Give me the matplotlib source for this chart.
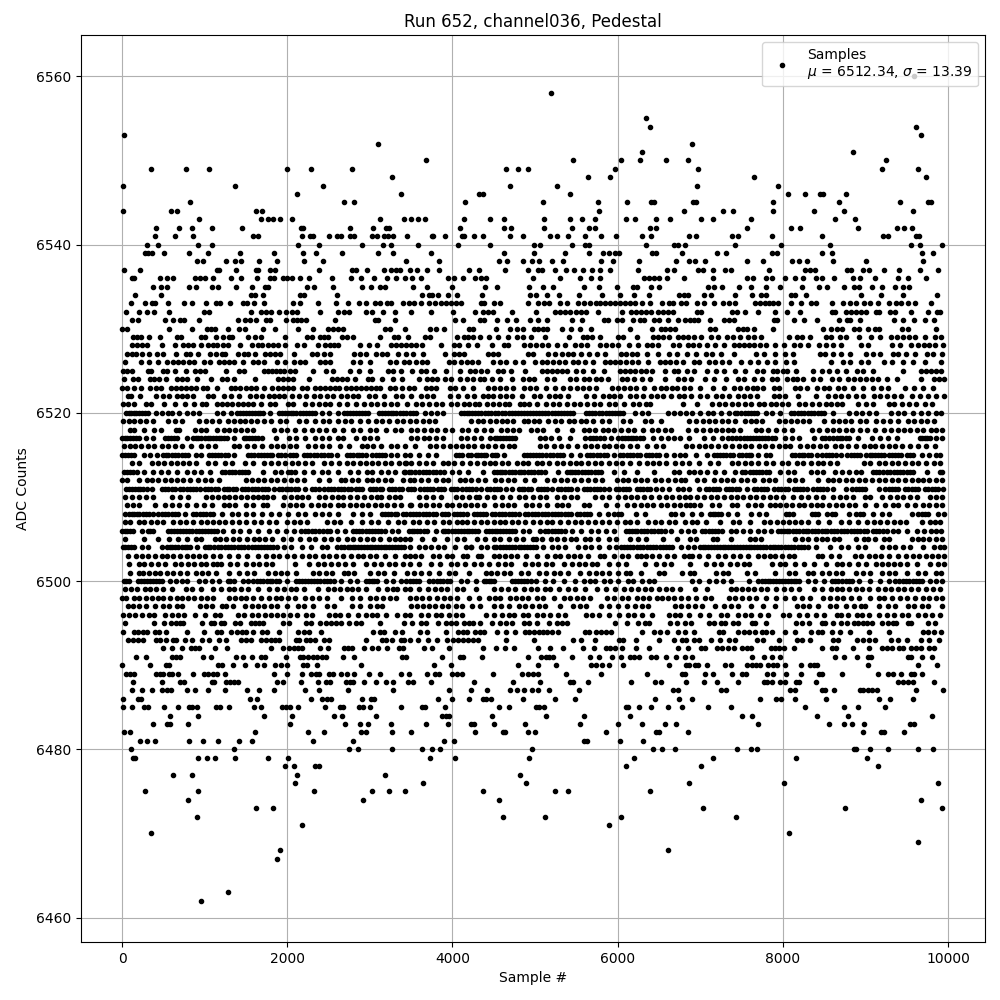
import re
import matplotlib
matplotlib.use("Agg")
import matplotlib.pyplot as plt

# sample numbers, one list per ADC level
s6560 = [9587]
s6558 = [5198]
s6555 = [6339]
s6554 = [6388, 9616]
s6553 = [28, 9676]
s6552 = [3099, 6895]
s6551 = [6291, 8854]
s6550 = [3679, 5457, 6037, 6267, 6581, 6847, 9253]
s6549 = [355, 778, 1056, 2000, 2289, 2785, 4646, 4791, 4913, 5964, 6968, 9205, 9640]
s6548 = [3268, 5638, 5904, 7645, 9737]
s6547 = [16, 1370, 2434, 4695, 5263, 6956, 7947]
s6546 = [2120, 3377, 4320, 4370, 5420, 8068, 8274, 8455, 8491, 8769]
s6545 = [826, 2688, 2809, 4151, 5094, 5759, 6110, 6400, 6436, 6908, 6944, 7875, 8685, 9422, 9761, 9797]
s6544 = [16, 596, 669, 1625, 1690, 5771, 6799, 7270, 7391, 7875, 8382, 8745, 9579]
s6543 = [935, 1684, 1769, 1830, 1914, 2059, 3123, 3413, 3498, 3582, 3667, 4139, 4453, 4622, 5106, 5420, 5566, 5723,
         6097, 6206, 6460, 6629, 7004, 7149, 7609, 8636, 8878]
s6542 = [415, 693, 850, 1092, 1455, 2168, 2192, 2760, 3038, 3196, 3232, 4090, 4622, 4707, 5106, 5445, 5650, 5723,
         6388, 6460, 7560, 8104, 8213, 8914, 9386, 9471, 9567]
s6541 = [403, 645, 862, 1588, 1648, 2180, 2277, 2313, 2503, 2603, 2652, 2760, 2809, 3026, 3087, 3172, 3220, 3280,
         3450, 3752, 3764, 3909, 4115, 4139, 4260, 4370, 4695, 4852, 5179, 5263, 5396, 5602, 5795, 5977, 6291, 6400,
         6859, 6944, 7379, 7452, 7863, 8479, 9217, 9277, 9616, 9652]
s6540 = [306, 439, 923, 1092, 2132, 2386, 2905, 3159, 3256, 3582, 4066, 4453, 4985, 5058, 5445, 5602, 5650, 6339,
         6678, 6726, 6811, 7415, 7983, 8576, 9547, 9664, 9930]
s6539 = [282, 318, 367, 512, 814, 1044, 1431, 1842, 2192, 2349, 2664, 3099, 3280, 3740, 4622, 4985, 5360, 5650,
         5819, 5892, 5964, 6013, 6412, 6460, 6775, 7198, 7306, 7863, 7935, 8479, 8600, 9688, 9821]
s6538 = [911, 983, 1261, 1370, 1443, 1660, 1878, 2204, 2434, 3437, 3836, 4562, 4658, 4852, 4961, 5046, 5203, 5336,
         5795, 5940, 6255, 6702, 6859, 6932, 7053, 7572, 7754, 8116, 8201, 8298, 8612, 9011, 9700]
s6537 = [28, 222, 1152, 1177, 1382, 1624, 1648, 1793, 1854, 2386, 2785, 2833, 2966, 3172, 3256, 3317, 3365, 3486,
         3570, 3691, 3836, 4199, 4320, 4634, 4913, 5034, 5082, 5239, 5372, 5469, 5578, 5686, 5783, 5904, 6243, 6597,
         6678, 6968, 7028, 7149, 7294, 7367, 7838, 8274, 8334, 8395, 8781, 8830, 8975, 9047, 9229, 9410, 9664, 9882]
s6536 = [125, 149, 463, 548, 620, 886, 947, 1007, 1104, 1322, 1443, 1636, 1793, 1842, 1950, 2000, 2059, 2156, 2265,
         2543, 2773, 2893, 3051, 3208, 3317, 3425, 3510, 3619, 3945, 4018, 4127, 4272, 4344, 4405, 4973, 5300, 5541,
         5674, 5783, 6315, 6376, 6436, 6496, 6593, 6799, 7149, 7572, 7633, 7790, 7863, 8020, 8153, 8250, 8407, 8479,
         8624, 8854, 8939, 9120, 9398, 9519, 9737]
s6535 = [379, 475, 548, 814, 899, 1092, 1164, 1382, 1576, 1733, 1769, 2240, 2325, 2555, 2905, 3014, 3123, 3184, 3522,
         3691, 3994, 4393, 4538, 4925, 5094, 5215, 5590, 5771, 5989, 6182, 6230, 6400, 6496, 7089, 7161, 7258, 7464,
         7609, 7790, 7971, 8237, 8443, 8540, 8745, 8866, 8926, 9084, 9205, 9362, 9459, 9531]
s6534 = [161, 475, 1564, 1612, 1709, 2156, 2204, 2603, 3631, 3716, 3752, 3824, 3945, 4054, 4356, 4937, 5009, 5142,
         5287, 5529, 5807, 6025, 6194, 6376, 6738, 6799, 6847, 7040, 7125, 7423, 7621, 7730, 7790, 8104, 8153, 8286,
         8951, 9193, 9459, 9870]
s6533 = [113, 282, 367, 403, 560, 753, 850, 1020, 1140, 1189, 1310, 1467, 1515, 1600, 1721, 2071, 2156, 2374, 2591,
         2736, 2869, 2954, 3063, 3123, 3208, 3256, 3401, 3474, 3534, 3619, 3716, 3788, 3860, 3921, 3982, 4042, 4102,
         4344, 4381, 4501, 4574, 4913, 5034, 5106, 5167, 5300, 5384, 5517, 5590, 5662, 5735, 5783, 5844, 5904, 5964,
         6025, 6085, 6146, 6206, 6291, 6388, 6533, 6617, 6666, 6762, 6823, 6956, 7040, 7161, 7270, 7343, 7415, 7657,
         7718, 7778, 7838, 7875, 7947, 8104, 8225, 8346, 8407, 8600, 8733, 8818, 8890, 8987, 9060, 9157, 9289, 9374,
         9434, 9519, 9604, 9797]
s6532 = [52, 209, 306, 391, 572, 995, 1056, 1564, 1684, 1745, 1805, 1902, 1987, 2059, 2120, 2398, 2615, 2688, 2748,
         2954, 3026, 3159, 3304, 3498, 3740, 4006, 4272, 4370, 4429, 4489, 4719, 5009, 5239, 5300, 5360, 5420, 5493,
         5553, 5614, 5759, 6049, 6158, 6218, 6279, 6339, 6400, 6484, 6545, 6605, 6666, 6956, 7004, 7379, 7439, 7536,
         7705, 7899, 8056, 8213, 8600, 8636, 8769, 8830, 8890, 8951, 9011, 9132, 9168, 9301, 9362, 9555, 9761, 9870, 9906]
s6531 = [125, 197, 524, 620, 705, 753, 935, 1406, 1491, 1551, 1624, 1745, 1793, 1987, 2071, 2120, 2168, 2228, 2579,
         3063, 3099, 3304, 4030, 4127, 4332, 4381, 4538, 4658, 4767, 4937, 5034, 5142, 5445, 5566, 5831, 5880, 5989,
         6049, 6182, 6267, 6315, 6436, 6496, 6605, 6726, 6811, 6871, 6920, 6968, 7113, 7282, 7343, 7403, 7887, 7935,
         8141, 8262, 8419, 8685, 8781, 8818, 8939, 9350, 9459, 9591, 9724, 9833]
s6530 = [4, 64, 572, 850, 1032, 1080, 1128, 1285, 1418, 1491, 1709, 1854, 2132, 2313, 2494, 2555, 2615, 2676, 3184,
         3244, 3425, 3728, 3800, 3897, 4199, 4248, 4525, 4695, 4779, 4852, 4985, 5034, 5094, 5142, 5324, 5432, 5541,
         5674, 6146, 6412, 6521, 6569, 6629, 6690, 7113, 7173, 7452, 7512, 7560, 7645, 7875, 8491, 8588, 8661, 8721,
         8866, 8926, 9035, 9120, 9168, 9446, 9519, 9857]
s6529 = [137, 185, 234, 330, 463, 669, 717, 959, 1007, 1140, 1225, 1298, 1334, 1527, 1612, 1684, 1975, 2241, 2301,
         2398, 2446, 2494, 2664, 2724, 2797, 3123, 3292, 3341, 3461, 3667, 3728, 4054, 4139, 4187, 4248, 4332, 4441,
         4550, 4671, 4779, 4852, 4949, 5118, 5408, 5578, 5626, 5686, 5783, 6001, 6061, 6231, 6424, 6484, 6545, 6617,
         6726, 6787, 6847, 6920, 7004, 7125, 7210, 7319, 7391, 7476, 7584, 7645, 7730, 8080, 8177, 8237, 8334, 8527,
         8588, 8697, 8769, 8926, 9071, 9181, 9313, 9386, 9459, 9531, 9604, 9724, 9845, 9918]
s6528 = [125, 185, 246, 306, 487, 645, 741, 802, 862, 959, 1044, 1104, 1152, 1225, 1285, 1431, 1576, 1648, 1697, 1769,
         1830, 1890, 1975, 2120, 2204, 2374, 2458, 2519, 2567, 2615, 2881, 2990, 3087, 3256, 3317, 3377, 3437, 3498,
         3558, 3631, 3860, 4018, 4078, 4187, 4296, 4477, 4622, 4671, 4864, 4937, 5009, 5082, 5154, 5263, 5360, 5481,
         5553, 5626, 5783, 5856, 5928, 6001, 6134, 6243, 6351, 6412, 6484, 6666, 6738, 6847, 6908, 6980, 7077, 7173,
         7282, 7403, 7464, 7524, 7585, 7645, 7718, 7790, 7911, 8008, 8129, 8213, 8310, 8443, 8527, 8612, 8709, 8951,
         9035, 9325, 9422, 9555, 9640, 9712, 9773, 9845, 9942]
s6527 = [64, 125, 173, 246, 330, 427, 500, 657, 778, 826, 923, 1068, 1140, 1213, 1249, 1406, 1479, 1527, 1612, 1733,
         1793, 1854, 1914, 2083, 2301, 2361, 2446, 2519, 2809, 2881, 2954, 3075, 3147, 3208, 3341, 3437, 3522, 3643,
         3909, 4018, 4078, 4139, 4429, 4489, 4550, 4913, 4973, 5154, 5239, 5324, 5396, 5457, 5553, 5650, 5747, 5844,
         6037, 6097, 6170, 6230, 6351, 6484, 6617, 6714, 6835, 6944, 7065, 7137, 7246, 7403, 7669, 7766, 7911, 8020,
         8117, 8455, 8515, 8612, 8709, 8818, 9011, 9096, 9181, 9337, 9398, 9495, 9604, 9749, 9821, 9930]
s6526 = [40, 234, 330, 439, 548, 620, 681, 741, 814, 874, 995, 1068, 1177, 1237, 1298, 1358, 1467, 1588, 1648, 1721,
         1878, 1975, 2083, 2156, 2216, 2398, 2458, 2519, 2797, 2881, 3002, 3244, 3317, 3413, 3474, 3558, 3631, 3691,
         3957, 4018, 4102, 4175, 4236, 4308, 4489, 4574, 4646, 4755, 4852, 4997, 5082, 5142, 5215, 5287, 5360, 5457,
         5517, 5602, 5699, 5844, 5904, 5964, 6025, 6097, 6170, 6243, 6363, 6509, 6569, 6629, 6702, 6787, 6920, 6980,
         7101, 7173, 7258, 7343, 7488, 7597, 7705, 7814, 7899, 8044, 8129, 8588, 8733, 8818, 8951, 9035, 9229, 9325,
         9459, 9579, 9724, 9918]
s6525 = [16, 64, 125, 318, 355, 500, 548, 645, 778, 886, 947, 1007, 1261, 1418, 1479, 1721, 1769, 1817, 1866, 1914,
         1963, 2035, 2095, 2313, 2470, 2555, 2760, 2869, 3002, 3220, 3280, 3377, 3510, 3619, 3679, 3776, 3921, 4090,
         4211, 4272, 4344, 4417, 4550, 4610, 4707, 4876, 5082, 5142, 5203, 5263, 5324, 5384, 5493, 5578, 5699, 5831,
         6025, 6085, 6146, 6206, 6279, 6339, 6412, 6569, 6678, 6726, 6835, 6920, 7077, 7186, 7282, 7415, 7536, 7693,
         7754, 7875, 7935, 7996, 8056, 8165, 8370, 8479, 8564, 8661, 8769, 8902, 8975, 9096, 9459, 9676, 9737, 9797,
         9857, 9918]
s6524 = [28, 137, 197, 342, 391, 451, 536, 669, 729, 790, 911, 1080, 1213, 1273, 1358, 1612, 1890, 1950, 2011, 2071,
         2265, 2543, 2603, 2664, 2724, 2821, 2978, 3026, 3143, 3280, 3389, 3595, 3691, 3752, 3812, 3909, 3982, 4090,
         4175, 4248, 4332, 4381, 4477, 4574, 4719, 4852, 4925, 4985, 5142, 5227, 5420, 5493, 5590, 5650, 5735, 5795,
         5880, 6049, 6110, 6194, 6291, 6388, 6569, 6726, 6799, 6883, 7053, 7161, 7306, 7452, 7524, 7645, 7742, 7863,
         7935, 8056, 8117, 8177, 8250, 8370, 8455, 8600, 8685, 8793, 8866, 8939, 9011, 9084, 9157, 9265, 9386, 9676,
         9833, 9894, 9950]
s6523 = [4, 64, 149, 234, 342, 415, 475, 596, 657, 717, 778, 838, 899, 983, 1032, 1152, 1322, 1370, 1431, 1503, 1564,
         1624, 1721, 1817, 1890, 1950, 2011, 2071, 2180, 2241, 2337, 2398, 2458, 2519, 2579, 2627, 2712, 2773, 2833,
         2893, 2954, 3014, 3075, 3123, 3244, 3304, 3389, 3474, 3534, 3679, 3740, 3800, 3969, 4030, 4127, 4248, 4429,
         4501, 4574, 4646, 4731, 4864, 4937, 5009, 5130, 5239, 5336, 5420, 5505, 5578, 5650, 5735, 5928, 6001, 6073,
         6146, 6218, 6315, 6436, 6521, 6581, 6654, 6714, 6799, 6871, 6992, 7149, 7282, 7403, 7476, 7560, 7633, 7693,
         7754, 7887, 7959, 8153, 8213, 8298, 8419, 8503, 8564, 8673, 8745, 8854, 8975, 9096, 9193, 9277, 9483, 9591,
         9700, 9821]
s6522 = [76, 113, 222, 415, 500, 572, 669, 729, 790, 862, 1044, 1104, 1237, 1322, 1418, 1551, 1624, 1697, 1781, 1842,
         1902, 1963, 2059, 2144, 2228, 2325, 2398, 2482, 2555, 2652, 2724, 2797, 2857, 2990, 3063, 3172, 3317, 3389,
         3498, 3619, 3691, 3764, 3969, 4066, 4175, 4260, 4370, 4429, 4489, 4574, 4646, 4719, 4840, 4985, 5058, 5167,
         5239, 5300, 5396, 5614, 5711, 5819, 5892, 5952, 6025, 6146, 6218, 6303, 6400, 6472, 6545, 6642, 6738, 6799,
         6883, 6992, 7077, 7186, 7258, 7343, 7452, 7524, 7597, 7693, 7887, 7959, 8032, 8189, 8407, 8552, 8636, 8709,
         8793, 8890, 8975, 9108, 9181, 9265, 9350, 9434, 9567, 9664, 9761, 9857, 9950]

# dense core, rows estimated run by run
s6521 = [8, 68, 149, 290, 350, 504, 645, 766, 866, 963, 1020, 1144, 1204, 1265, 1325, 1398, 1459, 1519, 1580, 1680,
         1785, 1850, 2003, 2075, 2220, 2301, 2382, 2462, 2519, 2623, 2728, 2829, 2930, 3010, 3091, 3172, 3252, 3333,
         3454, 3554, 3635, 3716, 3796, 3877, 3978, 4058, 4139, 4199, 4268, 4324, 4413, 4493, 4558, 4630, 4683, 4812,
         4872, 4929, 5029, 5134, 5215, 5287, 5388, 5469, 5549, 5630, 5710, 5783, 5892, 5972, 6073, 6182, 6263, 6343,
         6396, 6786, 6960, 7141, 7221, 7302, 7383, 7463, 7544, 7612, 7709, 7774, 7854, 7919, 7987, 8068, 8197, 8269,
         8358, 8438, 8519, 8584, 8660, 8717, 8914, 9007, 9087, 9285, 9349, 9446, 9527, 9607, 9720, 9809]
s6520 = [50, 110, 170, 240, 310, 410, 480, 560, 610, 690, 790, 860, 930, 1150, 1220, 1320, 1390, 1430, 1500, 1570,
         1640, 1700, 1790, 1900, 1970, 2040, 2110, 2190, 2260, 2330, 2420, 2500, 2620, 2690, 2760, 2830, 2910, 2980,
         3110, 3180, 3250, 3320, 3400, 3480, 3560, 3670, 3740, 3810, 3880, 4100, 4170, 4240, 4310, 4390, 4470, 4550,
         4640, 4720, 4790, 4860, 4940, 5010, 5090, 5160, 5240, 5320, 5390, 5460, 5620, 5690, 5770, 5860, 5930, 6000,
         6060, 6210, 6290, 6370, 6610, 6680, 6760, 6830, 6900, 7000, 7090, 7160, 7250, 7350, 7440, 7540, 7620, 7690,
         7790, 7870, 7960, 8100, 8180, 8260, 8340, 8420, 8500, 8610, 8800, 8880, 8960, 9040, 9130, 9310, 9390, 9470,
         9580, 9670, 9760, 9860, 9920]
s6519 = [10, 80, 150, 220, 290, 380, 560, 640, 720, 930, 1020, 1090, 1170, 1280, 1360, 1430, 1490, 1560, 1630, 1720,
         1800, 1910, 1990, 2140, 2230, 2330, 2430, 2510, 2620, 2700, 2770, 2880, 2980, 3070, 3150, 3230, 3330, 3400,
         3480, 3560, 3640, 3710, 3790, 4230, 4310, 4370, 4450, 4530, 4600, 4660, 4730, 4860, 4920, 4990, 5050, 5160,
         5240, 5320, 5410, 5470, 5560, 5620, 5700, 5810, 5900, 6070, 6150, 6330, 6400, 6530, 6860, 6950, 7030, 7100,
         7180, 7260, 7340, 7420, 7540, 7610, 7680, 7750, 7950, 8020, 8100, 8170, 8240, 8320, 8500, 8610, 8680, 8750,
         8830, 8930, 9010, 9130, 9210, 9300, 9390, 9510, 9590, 9670, 9750, 9830]
s6518 = [90, 150, 260, 390, 470, 650, 690, 880, 950, 1020, 1150, 1230, 1300, 1370, 1440, 1510, 1580, 1840, 1920, 2000,
         2090, 2200, 2300, 2380, 2470, 2570, 2680, 2790, 2880, 3000, 3080, 3200, 3300, 3380, 3500, 3570, 3650, 3740,
         3810, 3910, 4000, 4120, 4190, 4290, 4380, 4470, 4590, 4660, 4730, 4800, 4950, 5020, 5100, 5260, 5450, 5590,
         5650, 5730, 5820, 5880, 5960, 6040, 6130, 6200, 6310, 6420, 6490, 6570, 6640, 6850, 6950, 7030, 7120, 7190,
         7260, 7330, 7400, 7480, 7670, 7740, 7820, 7920, 8010, 8110, 8350, 8440, 8540, 8610, 8680, 8760, 8840, 8940,
         9020, 9120, 9220, 9310, 9390, 9470, 9540, 9620, 9700, 9790, 9860, 9930]
s6517 = [0, 60, 130, 210, 290, 380, 520, 590, 660, 780, 860, 920, 1000, 1070, 1140, 1200, 1270, 1350, 1470, 1540,
         1610, 1690, 1860, 2020, 2110, 2210, 2330, 2420, 2500, 2610, 2680, 2830, 2930, 3000, 3090, 3500, 3570, 3650,
         3720, 3800, 3880, 4100, 4170, 4260, 4350, 4450, 4540, 4610, 4680, 4760, 5060, 5120, 5190, 5290, 5420, 5600,
         5670, 5740, 5830, 5920, 6010, 6090, 6160, 6220, 6310, 6430, 6530, 6610, 6680, 6760, 6860, 7040, 7160, 7260,
         7340, 7430, 7530, 7600, 7680, 7750, 7820, 7910, 8020, 8110, 8190, 8380, 8470, 8560, 8660, 8720, 8800, 8910,
         9080, 9180, 9270, 9380, 9660, 9720, 9780, 9860, 9930]
s6516 = [20, 90, 160, 230, 310, 390, 480, 560, 640, 720, 830, 950, 1040, 1120, 1350, 1420, 1510, 1600, 1690, 1800,
         1870, 1950, 2030, 2110, 2250, 2330, 2420, 2510, 2640, 2750, 2900, 2970, 3040, 3130, 3250, 3330, 3430, 3550,
         3730, 3800, 3880, 3970, 4040, 4110, 4190, 4260, 4360, 4430, 4510, 4600, 4680, 4750, 5060, 5130, 5230, 5310,
         5400, 5510, 5610, 5680, 5750, 5830, 5900, 5980, 6050, 6150, 6240, 6350, 6470, 6550, 6830, 6900, 6980, 7060,
         7130, 7220, 7300, 7380, 7470, 7540, 7620, 7710, 7780, 7870, 7950, 8020, 8090, 8210, 8290, 8370, 8450, 8520,
         8630, 8700, 8790, 8890, 8980, 9050, 9120, 9200, 9280, 9360, 9440, 9540, 9640, 9730, 9840]
s6515 = [0, 70, 150, 260, 340, 420, 490, 560, 640, 720, 800, 900, 960, 1050, 1130, 1200, 1280, 1350, 1520, 1600,
         1680, 1750, 1820, 1890, 1970, 2030, 2110, 2200, 2280, 2360, 2450, 2530, 2600, 2720, 2800, 2870, 2950, 3030,
         3110, 3180, 3260, 3330, 3420, 3490, 3600, 3700, 3800, 4040, 4110, 4190, 4280, 4340, 4410, 4480, 4540, 4620,
         4860, 4940, 5010, 5090, 5180, 5260, 5340, 5440, 5540, 5630, 5700, 5790, 5870, 5950, 6030, 6110, 6190, 6270,
         6340, 6420, 6500, 6580, 6680, 6760, 6820, 6950, 7080, 7170, 7240, 7310, 7400, 7470, 7550, 7620, 7700, 7790,
         7850, 8110, 8190, 8260, 8340, 8410, 8480, 8560, 8640, 8700, 8780, 8860, 8940, 9010, 9080, 9150, 9220, 9290,
         9360, 9430, 9500, 9580, 9680, 9770, 9860, 9900]
s6514 = [120, 200, 360, 440, 510, 590, 670, 740, 810, 900, 1040, 1120, 1240, 1330, 1490, 1590, 1720, 1800, 1890, 1970,
         2060, 2130, 2210, 2300, 2450, 2530, 2630, 2720, 2790, 2880, 2950, 3030, 3100, 3180, 3260, 3350, 3420, 3440,
         3500, 3590, 3680, 3770, 3880, 3950, 4020, 4120, 4210, 4300, 4380, 4460, 4520, 4600, 4670, 4780, 4850, 4910,
         5020, 5090, 5170, 5260, 5340, 5420, 5490, 5560, 5640, 5720, 5800, 5900, 5980, 6050, 6150, 6260, 6350, 6430,
         6500, 6580, 6700, 6780, 6860, 6990, 7120, 7210, 7380, 7460, 7540, 7620, 7700, 7790, 7880, 7990, 8060, 8170,
         8240, 8340, 8420, 8490, 8570, 8650, 8980, 9060, 9160, 9240, 9320, 9400, 9480, 9560, 9640, 9730, 9830, 9900]
s6513 = [20, 90, 180, 260, 380, 470, 560, 660, 780, 870, 960, 1060, 1210, 1290, 1370, 1450, 1520, 1700, 1850, 1930,
         2010, 2090, 2200, 2310, 2420, 2490, 2620, 2760, 2860, 2960, 3030, 3130, 3220, 3310, 3410, 3420, 3470, 3550,
         3640, 3720, 3800, 3900, 4000, 4080, 4190, 4370, 4500, 4570, 4640, 4720, 4800, 4870, 4950, 5030, 5120, 5280,
         5390, 5420, 5480, 5570, 5640, 5720, 5800, 5960, 6080, 6240, 6440, 6680, 6740, 6860, 6930, 7000, 7080, 7180,
         7290, 7420, 7500, 7600, 7680, 7750, 7830, 7960, 8060, 8140, 8340, 8410, 8490, 8630, 8720, 8800, 8880, 8950,
         9090, 9170, 9260, 9340, 9420, 9500, 9580, 9740, 9900, 9930]
s6512 = [0, 60, 210, 300, 360, 440, 520, 590, 660, 740, 820, 920, 1000, 1080, 1170, 1500, 1570, 1650, 1720, 1800,
         1880, 1960, 2050, 2120, 2200, 2390, 2500, 2650, 2700, 2780, 2860, 2960, 3030, 3100, 3180, 3260, 3400, 3480,
         3540, 3620, 3700, 3800, 3880, 3950, 4090, 4150, 4230, 4310, 4390, 4510, 4590, 4670, 4740, 4880, 4990, 5150,
         5230, 5310, 5390, 5470, 5560, 5640, 5720, 5810, 5990, 6060, 6130, 6210, 6280, 6360, 6450, 6530, 6610, 6700,
         6770, 6820, 6960, 7050, 7170, 7250, 7320, 7400, 7490, 7560, 7650, 7760, 7830, 7900, 8070, 8150, 8230, 8430,
         8550, 8610, 8680, 8760, 8840, 8920, 9000, 9080, 9160, 9240, 9320, 9400, 9480, 9560, 9640, 9700, 9770, 9850,
         9930]
s6511 = [50, 120, 190, 250, 300, 360, 480, 560, 640, 700, 780, 860, 940, 1000, 1080, 1160, 1230, 1300, 1380, 1450,
         1530, 1610, 1690, 1770, 1840, 1900, 1980, 2050, 2130, 2220, 2300, 2380, 2450, 2530, 2610, 2690, 2770, 2830,
         2910, 3000, 3080, 3150, 3230, 3310, 3390, 3460, 3540, 3610, 3690, 3760, 3830, 3900, 3980, 4060, 4120, 4200,
         4280, 4350, 4420, 4500, 4580, 4650, 4720, 4810, 4870, 4950, 5030, 5110, 5200, 5280, 5360, 5440, 5510, 5590,
         5670, 5750, 5830, 5900, 5980, 6060, 6140, 6230, 6310, 6390, 6470, 6540, 6620, 6730, 6790, 6860, 6990, 7070,
         7150, 7230, 7310, 7390, 7470, 7570, 7650, 7730, 7810, 7890, 7980, 8060, 8130, 8210, 8290, 8370, 8450, 8530,
         8610, 8770, 8840, 8920, 9000, 9160, 9240, 9320, 9400, 9480, 9560, 9640, 9720, 9800, 9880, 9940]
s6510 = [40, 120, 200, 290, 370, 600, 700, 800, 1020, 1090, 1160, 1230, 1300, 1370, 1440, 1510, 1580, 1640, 1700,
         1760, 1830, 1960, 2040, 2120, 2180, 2250, 2380, 2460, 2540, 2620, 2680, 2760, 2850, 2930, 3010, 3090, 3130,
         3230, 3300, 3370, 3600, 3680, 3770, 3860, 4040, 4120, 4200, 4280, 4320, 4420, 4500, 4600, 4700, 4800, 4880,
         4970, 5060, 5130, 5270, 5350, 5430, 5510, 5730, 5810, 5900, 6000, 6090, 6160, 6230, 6320, 6400, 6500, 6580,
         6660, 6740, 6810, 6880, 6960, 7050, 7130, 7200, 7290, 7370, 7440, 7520, 7600, 7680, 7760, 7840, 7920, 8000,
         8120, 8220, 8310, 8400, 8490, 8610, 8690, 8770, 8850, 8990, 9060, 9200, 9300, 9380, 9460, 9540, 9620, 9780,
         9860, 9930]
s6509 = [60, 130, 200, 400, 520, 600, 690, 780, 900, 990, 1090, 1230, 1300, 1370, 1500, 1590, 1710, 1760, 1950,
         2030, 2100, 2180, 2290, 2370, 2440, 2520, 2610, 2680, 2760, 2830, 2900, 2980, 3060, 3130, 3210, 3290, 3380,
         3500, 3480, 3610, 3680, 3760, 3840, 3930, 4000, 4080, 4150, 4230, 4300, 4380, 4520, 4600, 4670, 4740, 4890,
         4960, 5050, 5150, 5260, 5330, 5400, 5590, 5650, 5860, 5990, 6110, 6200, 6280, 6350, 6430, 6520, 6600, 6680,
         6760, 6830, 6880, 6930, 7000, 7140, 7230, 7380, 7440, 7580, 7660, 7730, 7840, 7900, 7970, 8040, 8110, 8190,
         8260, 8340, 8410, 8480, 8560, 8640, 8720, 8800, 8870, 9000, 9130, 9240, 9330, 9400, 9500, 9600, 9700, 9770,
         9850, 9930]
s6508 = [30, 80, 150, 210, 290, 370, 440, 520, 600, 680, 760, 860, 940, 1020, 1100, 1210, 1330, 1400, 1500, 1590,
         1690, 1800, 1900, 2010, 2130, 2220, 2330, 2420, 2500, 2610, 2800, 2900, 3000, 3150, 3180, 3260, 3330, 3400,
         3480, 3560, 3640, 3720, 3800, 3870, 3940, 4020, 4090, 4170, 4260, 4330, 4410, 4480, 4560, 4640, 4720, 4800,
         4880, 4960, 5040, 5120, 5200, 5280, 5360, 5440, 5510, 5590, 5670, 5780, 5880, 5960, 6040, 6220, 6330, 6640,
         6700, 6780, 6900, 7010, 7120, 7180, 7250, 7330, 7440, 7620, 7710, 7790, 8040, 8120, 8350, 8430, 8540, 8630,
         8800, 8890, 8970, 9090, 9200, 9290, 9560, 9640, 9720, 9880, 9950]
s6507 = [30, 100, 200, 270, 350, 420, 490, 620, 700, 770, 860, 950, 1030, 1100, 1170, 1250, 1330, 1410, 1500, 1600,
         1680, 1780, 1860, 2000, 2080, 2160, 2240, 2480, 2560, 2640, 2770, 2900, 3010, 3100, 3220, 3340, 3410, 3520,
         3600, 3690, 3780, 3880, 3960, 4050, 4110, 4180, 4260, 4340, 4420, 4500, 4580, 4640, 4720, 4790, 4880, 4980,
         5060, 5150, 5210, 5300, 5400, 5480, 5560, 5640, 5720, 5810, 5900, 5990, 6090, 6150, 6230, 6370, 6450, 6530,
         6620, 6700, 6820, 6900, 6960, 7070, 7240, 7400, 7470, 7600, 7770, 7850, 7930, 8000, 8080, 8150, 8220, 8300,
         8430, 8560, 8700, 8800, 8910, 9020, 9100, 9180, 9260, 9340, 9420, 9490, 9680, 9780, 9840, 9900]
s6506 = [0, 60, 130, 240, 310, 380, 550, 630, 700, 770, 850, 930, 1000, 1080, 1150, 1220, 1340, 1430, 1540, 1640,
         1780, 1880, 1980, 2080, 2170, 2250, 2340, 2430, 2520, 2600, 2700, 2800, 2870, 2950, 3020, 3100, 3180, 3270,
         3340, 3470, 3540, 3610, 3690, 3800, 3880, 3950, 4030, 4100, 4170, 4240, 4310, 4400, 4480, 4540, 4610, 4690,
         4760, 4850, 4930, 5060, 5120, 5200, 5280, 5360, 5450, 5560, 5680, 5760, 5860, 5950, 6100, 6170, 6240, 6320,
         6400, 6490, 6570, 6650, 6770, 6850, 6930, 7020, 7100, 7180, 7260, 7370, 7430, 7520, 7600, 7700, 7770, 7860,
         7940, 8010, 8080, 8160, 8240, 8310, 8390, 8470, 8540, 8620, 8700, 8780, 8860, 8940, 9020, 9090, 9170, 9260,
         9330, 9400, 9500, 9630, 9710, 9790, 9860, 9920]
s6505 = [40, 270, 430, 570, 680, 790, 900, 950, 1120, 1190, 1260, 1340, 1420, 1510, 1600, 1660, 1730, 1820, 1950,
         2050, 2150, 2260, 2340, 2450, 2530, 2620, 2720, 2800, 2880, 2960, 3040, 3120, 3230, 3300, 3370, 3420, 3490,
         3630, 3780, 3930, 4050, 4140, 4300, 4390, 4500, 4580, 4680, 4770, 4850, 4970, 5010, 5080, 5190, 5270, 5350,
         5430, 5490, 5600, 5670, 5760, 5900, 5980, 6150, 6250, 6340, 6550, 6720, 6870, 6950, 7150, 7200, 7370, 7600,
         7660, 7730, 8150, 8230, 8310, 8400, 8470, 8540, 8620, 8680, 8880, 8980, 9030, 9110, 9230, 9280, 9560, 9640,
         9700, 9770, 9860, 9930]
s6504 = [10, 70, 150, 240, 310, 480, 540, 610, 680, 760, 820, 910, 1000, 1070, 1160, 1240, 1320, 1400, 1480, 1570,
         1640, 1720, 1790, 1870, 1960, 2040, 2180, 2290, 2420, 2480, 2600, 2650, 2730, 2790, 2860, 2930, 3000, 3060,
         3130, 3200, 3270, 3340, 3410, 3490, 3600, 3670, 3740, 3820, 3900, 4030, 4160, 4220, 4230, 4350, 4420, 4500,
         4570, 4650, 4720, 4800, 4860, 4940, 5010, 5100, 5200, 5280, 5360, 5520, 5600, 5680, 5780, 5900, 5980, 6040,
         6110, 6190, 6270, 6350, 6430, 6510, 6580, 6660, 6770, 6850, 6920, 7000, 7060, 7130, 7200, 7270, 7340, 7410,
         7480, 7550, 7620, 7690, 7760, 7840, 7910, 7980, 8060, 8140, 8220, 8300, 8400, 8570, 8710, 8790, 8910, 9000,
         9200, 9280, 9360, 9450, 9540, 9700, 9830, 9900, 9950]
s6503 = [70, 170, 240, 310, 400, 480, 540, 620, 700, 780, 860, 930, 1000, 1100, 1190, 1300, 1400, 1510, 1650, 1740,
         1830, 1900, 2000, 2080, 2180, 2260, 2340, 2430, 2510, 2590, 2670, 2770, 2860, 2920, 3000, 3080, 3180, 3300,
         3420, 3490, 3550, 3620, 3760, 3840, 3930, 4000, 4170, 4130, 4310, 4340, 4500, 4560, 4640, 4710, 4780, 4890,
         5020, 5150, 5240, 5300, 5400, 5470, 5550, 5640, 5790, 5830, 5950, 6050, 6120, 6230, 6280, 6340, 6420, 6500,
         6600, 6680, 6800, 6860, 6900, 6980, 7090, 7220, 7300, 7400, 7480, 7580, 7700, 7770, 7840, 7910, 7990, 8070,
         8130, 8430, 8480, 8580, 8680, 8870, 8950, 9040, 9120, 9190, 9280, 9400, 9490, 9570, 9650, 9730, 9800, 9880, 9950]
s6502 = [80, 200, 270, 350, 430, 520, 640, 710, 800, 870, 950, 1020, 1100, 1150, 1200, 1310, 1390, 1500, 1580, 1660,
         1740, 1820, 2090, 2260, 2370, 2450, 2530, 2620, 2700, 2800, 2950, 3050, 3140, 3230, 3300, 3400, 3480, 3600,
         3740, 3850, 3980, 4060, 4150, 4260, 4350, 4440, 4550, 4630, 4710, 4880, 4960, 5040, 5130, 5200, 5350, 5450,
         5530, 5610, 5690, 5750, 5900, 6000, 6100, 6330, 6470, 6560, 6650, 6880, 7070, 7170, 7250, 7360, 7440, 7530,
         7590, 7870, 7960, 8030, 8150, 8260, 8380, 8520, 8660, 8720, 8800, 8910, 9010, 9130, 9200, 9270, 9340, 9420,
         9500, 9630, 9780, 9880, 9950]
s6501 = [100, 200, 250, 320, 400, 460, 540, 620, 700, 780, 890, 970, 1040, 1140, 1300, 1420, 1510, 1600, 1770, 1850,
         1920, 2000, 2100, 2310, 2380, 2470, 2540, 2690, 2740, 2810, 3000, 3100, 3170, 3290, 3450, 3540, 3620, 3710,
         3840, 3960, 4030, 4200, 4400, 4470, 4540, 4620, 4700, 4830, 4920, 5050, 5130, 5230, 5300, 5400, 5550, 5650,
         5740, 5810, 5900, 6000, 6100, 6150, 6280, 6500, 6560, 6780, 6870, 6920, 7190, 7270, 7340, 7560, 7660, 7900,
         8070, 8150, 8300, 8370, 8470, 8560, 8640, 8720, 8880, 8970, 9050, 9200, 9280, 9360, 9500, 9640, 9720, 9860, 9920]
s6500 = [20, 80, 190, 260, 340, 410, 480, 580, 650, 730, 780, 930, 1000, 1090, 1170, 1280, 1350, 1460, 1520, 1590,
         1670, 1750, 1820, 1900, 2000, 2100, 2180, 2250, 2320, 2400, 2480, 2560, 2650, 2760, 2850, 2950, 3020, 3090,
         3200, 3280, 3380, 3440, 3520, 3600, 3720, 3810, 3890, 3970, 4100, 4180, 4280, 4380, 4440, 4500, 4720, 4790,
         4860, 4950, 5010, 5120, 5220, 5350, 5480, 5590, 5660, 5730, 5840, 5910, 6000, 6120, 6190, 6290, 6380, 6440,
         6900, 6980, 7100, 7190, 7280, 7370, 7590, 7700, 7780, 7850, 7920, 7990, 8060, 8130, 8200, 8300, 8390, 8500,
         8590, 8670, 8760, 8840, 8920, 9060, 9180, 9280, 9360, 9450, 9530, 9610, 9690, 9780, 9860, 9930]
s6499 = [40, 110, 180, 280, 340, 410, 500, 610, 770, 850, 950, 1100, 1200, 1290, 1360, 1440, 1520, 1640, 1780, 1880,
         1960, 2040, 2110, 2200, 2370, 2490, 2560, 2640, 2720, 2780, 2860, 2950, 3100, 3210, 3280, 3330, 3420, 3480,
         3600, 3700, 3790, 3860, 3930, 4050, 4130, 4290, 4500, 4590, 4670, 4760, 4860, 4950, 5020, 5120, 5180, 5290,
         5400, 5480, 5600, 5750, 5860, 5970, 6080, 6160, 6250, 6330, 6400, 6500, 6580, 6660, 6750, 6940, 7080, 7370,
         7430, 7500, 7580, 7650, 7730, 7810, 7920, 8010, 8100, 8200, 8380, 8480, 8580, 8660, 8720, 8800, 8880, 8960,
         9040, 9150, 9240, 9310, 9390, 9470, 9550, 9640, 9730, 9820, 9900]
s6498 = [0, 50, 140, 210, 290, 360, 440, 500, 580, 660, 720, 800, 870, 950, 1030, 1100, 1290, 1370, 1440, 1500, 1590,
         1680, 1780, 1860, 1930, 2010, 2090, 2220, 2300, 2380, 2480, 2650, 2780, 2880, 3000, 3080, 3160, 3240, 3320,
         3480, 3560, 3630, 3720, 3810, 3900, 3970, 4060, 4200, 4320, 4440, 4510, 4580, 4700, 4770, 4840, 4920, 5020,
         5100, 5230, 5350, 5420, 5510, 5580, 5660, 5870, 5960, 6050, 6130, 6230, 6310, 6380, 6480, 6540, 6610, 6680,
         6770, 6850, 6950, 7060, 7130, 7350, 7420, 7510, 7590, 7680, 7790, 7920, 8020, 8130, 8230, 8330, 8490, 8570,
         8650, 8730, 8830, 8920, 9050, 9160, 9230, 9320, 9420, 9500, 9600, 9700, 9770, 9850, 9930]
s6497 = [70, 130, 200, 290, 400, 490, 570, 660, 730, 940, 1010, 1090, 1210, 1260, 1340, 1490, 1570, 1640, 1720, 1800,
         1880, 2000, 2130, 2200, 2310, 2480, 2560, 2780, 2880, 3000, 3090, 3150, 3500, 3570, 3640, 3720, 3790, 3870,
         3950, 4040, 4120, 4240, 4330, 4500, 4590, 4680, 4800, 4880, 4960, 5050, 5120, 5300, 5460, 5540, 5620, 5800,
         5900, 6000, 6110, 6210, 6300, 6370, 6690, 6770, 6850, 6940, 7020, 7180, 7290, 7370, 7460, 7620, 7760, 7900,
         8170, 8240, 8320, 8430, 8570, 8640, 8760, 8860, 8950, 9000, 9170, 9270, 9360, 9520, 9590, 9680, 9760, 9930]
s6496 = [8, 80, 160, 240, 320, 390, 520, 600, 680, 750, 880, 1000, 1120, 1190, 1400, 1470, 1570, 1640, 1730, 1800,
         1870, 1950, 2030, 2120, 2230, 2300, 2500, 2580, 2640, 2730, 2860, 2950, 3020, 3090, 3190, 3330, 3420, 3490,
         3620, 3700, 3800, 3860, 3960, 4040, 4120, 4400, 4500, 4600, 4680, 4750, 4850, 4920, 5020, 5100, 5180, 5280,
         5360, 5620, 5690, 5770, 5900, 6020, 6120, 6200, 6300, 6420, 6620, 6690, 6760, 6860, 7000, 7110, 7250, 7320,
         7460, 7540, 7620, 7720, 7820, 8000, 8080, 8200, 8290, 8400, 8500, 8650, 8710, 8790, 8900, 8960, 9040, 9170,
         9260, 9350, 9440, 9510, 9640, 9720, 9800, 9900]

s6495 = [40, 391, 512, 596, 657, 705, 741, 971, 1080, 1116, 1201, 1237, 1370, 1431, 1564, 1612, 1660, 1709, 1950,
         2023, 2228, 2289, 2398, 2470, 2531, 2591, 2652, 2748, 2833, 2893, 3123, 3413, 3510, 3619, 3679, 3824, 3921,
         3982, 4042, 4139, 4199, 4248, 4332, 4477, 4574, 4646, 4719, 4864, 4925, 5026, 5167, 5263, 5324, 5384, 5964,
         6110, 6243, 6327, 6376, 6629, 6718, 6811, 6883, 7101, 7161, 7246, 7294, 7391, 7452, 7621, 7657, 7790, 8165,
         8237, 8322, 8479, 8515, 8612, 8709, 8781, 8866, 8915, 8975, 9023, 9084, 9205, 9277, 9337, 9374, 9519, 9555,
         9761, 9845]
s6494 = [16, 149, 197, 258, 306, 403, 451, 536, 790, 995, 1152, 1201, 1322, 1394, 1455, 1503, 1588, 1697, 1757, 1902,
         2132, 2204, 2265, 2410, 3038, 3123, 3172, 3304, 3389, 3607, 3691, 3921, 4066, 4127, 4175, 4272, 4332, 4381,
         4538, 4646, 4755, 4876, 4925, 4985, 5046, 5094, 5142, 5203, 5275, 5602, 5650, 5735, 5795, 5856, 5916, 6291,
         6436, 6509, 6593, 6726, 6811, 6920, 7222, 7270, 7452, 7524, 7585, 7657, 7742, 7790, 7863, 8020, 8153, 8346,
         8431, 8479, 8600, 8697, 8818, 9047, 9289, 9700, 9761, 9833, 9918]
s6493 = [76, 137, 197, 258, 415, 463, 536, 620, 657, 766, 850, 971, 1056, 1177, 1261, 1443, 1503, 1564, 1684, 1745,
         1805, 1854, 1902, 2108, 2144, 2228, 2277, 2337, 2446, 2506, 2954, 3147, 3196, 3268, 3377, 3413, 3486, 3582,
         3703, 3812, 3933, 4006, 4066, 4127, 4187, 4248, 4308, 4646, 4985, 5457, 5553, 5723, 6013, 6061, 6218, 6496,
         6678, 6775, 6823, 6920, 6980, 7125, 7234, 7343, 7415, 7693, 7754, 7959, 8177, 8237, 8334, 8612, 8673, 8902,
         8975, 9047, 9120, 9313, 9398, 9499, 9676, 9773, 9894]
s6492 = [500, 608, 729, 838, 886, 935, 1128, 1273, 1805, 1950, 2023, 2083, 2132, 2180, 2398, 2494, 2688, 2736, 2785,
         2930, 3026, 3099, 3208, 3353, 3401, 3655, 3752, 3957, 4370, 4526, 4634, 4743, 5034, 5179, 5336, 5578, 5711,
         5856, 5904, 5964, 6049, 6218, 6376, 6726, 6847, 7004, 7053, 7198, 7258, 7331, 7403, 7500, 7560, 7609, 7851,
         7911, 7959, 8008, 8129, 8479, 8600, 8648, 8854, 9047, 9205, 9265, 9325, 9410, 9459, 9555, 9616, 9676, 9773, 9833]
s6491 = [173, 294, 608, 657, 705, 983, 1080, 1382, 1467, 1576, 1684, 1733, 1987, 2156, 2192, 2253, 2313, 2361, 2422,
         2470, 2676, 2809, 3389, 3437, 3873, 4090, 4127, 4356, 4913, 5070, 5130, 5167, 5215, 5445, 5662, 5771, 5928,
         6037, 6146, 6194, 6255, 6400, 6460, 6581, 6702, 6811, 6895, 7621, 7766, 7863, 7971, 8636, 8745, 8902, 9035,
         9071, 9519, 9555, 9688, 9809]
s6490 = [4, 342, 536, 572, 1164, 1213, 1346, 1491, 1636, 1721, 1854, 1926, 2000, 2192, 2240, 2361, 2893, 3776, 3982,
         4791, 5034, 5251, 5674, 5735, 5807, 5892, 6061, 6617, 6823, 6859, 6932, 6968, 7077, 7294, 7367, 7560, 7621,
         7669, 7718, 7826, 7875, 7935, 8032, 8225, 8334, 8382, 8419, 9035, 9640, 9870]
s6489 = [52, 101, 149, 415, 463, 500, 572, 608, 681, 862, 995, 1044, 1104, 1152, 1249, 1842, 2000, 2180, 2289, 2349,
         2386, 2506, 2555, 2652, 2724, 2809, 2990, 3123, 3377, 3474, 3691, 3788, 3836, 3994, 4054, 4115, 4489, 4840,
         4913, 4973, 5034, 5372, 5795, 6351, 6775, 6811, 7053, 7149, 7379, 7500, 7548, 7814, 7875, 8044, 8225, 8443,
         8479, 8721, 9157, 9277, 9337, 9434, 9555, 9591, 9688]
s6488 = [137, 487, 705, 753, 1092, 1116, 1261, 1310, 1358, 1406, 1878, 1950, 2168, 2374, 2470, 2519, 2712, 2760, 2797,
         2930, 3075, 3196, 3280, 3461, 3522, 3740, 4260, 4731, 5058, 5420, 5457, 5638, 6158, 6448, 6521, 6823, 7040,
         7198, 7452, 7766, 7814, 7863, 7971, 8032, 8165, 8201, 8407, 9398, 9459, 9519, 9579, 9833]
s6487 = [125, 246, 367, 487, 548, 596, 790, 886, 1044, 1249, 1515, 1660, 1842, 2216, 2386, 2736, 3280, 3957, 4223,
         4417, 4695, 4779, 4864, 4961, 5034, 5167, 5529, 6666, 6726, 7246, 7306, 8092, 8153, 8479, 8515, 8624, 8939,
         8975, 9035, 9084, 9144, 9616, 9942]
s6486 = [16, 197, 234, 1551, 1636, 2289, 2422, 2482, 2531, 2905, 3014, 3051, 3824, 3994, 4199, 4370, 4405, 4465, 4852,
         5239, 5481, 6448, 6738, 6895, 7718, 7923, 7983, 8153, 8527, 9168, 9301, 9579]
s6485 = [16, 125, 270, 318, 512, 681, 814, 850, 911, 1140, 1189, 1298, 1600, 1684, 1938, 1987, 2035, 2132, 2458, 2640,
         2676, 2869, 2918, 3002, 3377, 3631, 3667, 3909, 4562, 4682, 5009, 5046, 5106, 6097, 6122, 6255, 6400, 6605,
         6775, 7089, 7367, 8274, 8745, 8915, 9241]
s6484 = [584, 923, 1721, 2059, 2567, 2664, 3075, 3873, 3921, 3957, 4477, 5130, 5590, 6146, 7500, 7621, 8419, 8793, 9809]
s6483 = [379, 548, 584, 802, 2035, 2700, 2881, 2978, 3256, 3679, 3945, 4223, 4260, 4501, 4876, 5541, 6001, 6291, 6569,
         6702, 7705, 8564, 8745, 8842, 8987, 9543, 9591]
s6482 = [28, 101, 1612, 2253, 2446, 2893, 2954, 3268, 3498, 4272, 4610, 4634, 4913, 4997, 5856, 6460, 6496, 6847, 8975,
         9193, 9229, 9471]
s6481 = [222, 306, 403, 814, 983, 1164, 1418, 1576, 2313, 2797, 3897, 4018, 5590, 5626, 6025, 6303]
s6480 = [113, 1358, 2748, 2857, 3268, 3631, 3752, 3849, 4961, 6424, 6533, 6690, 7439, 7609, 7693, 8866, 8890, 9060,
         9277, 9640, 9821]
s6479 = [137, 161, 923, 1032, 1128, 1370, 1769, 2011, 3728, 4030, 4925, 6194, 7149, 8165, 9023]
s6478 = [1975, 2083, 2337, 2386, 6097, 7004, 9157]
s6477 = [620, 850, 2120, 3184, 4816]
s6476 = [2095, 3643, 4888, 6859, 8008, 9882]
s6475 = [282, 923, 2325, 3026, 3232, 3425, 4370, 5239, 5396, 6388]
s6474 = [802, 2918, 4562, 9676]
s6473 = [1624, 1830, 7028, 8757, 9930]
s6472 = [911, 4610, 5118, 6037, 7427]
s6471 = [2180, 5892]
s6470 = [355, 8080]
s6469 = [9640]
s6468 = [1914, 6605]
s6467 = [1878]
s6463 = [1285]
s6462 = [959]

# more samples inside the solid runs of the busiest rows
f6515 = [35, 110, 530, 600, 680, 760, 1090, 1160, 1240, 1560, 1640, 1720, 1790, 1930, 2070, 2240, 2320, 2410, 2490,
         2760, 2840, 2910, 3070, 3150, 4080, 4230, 4310, 4380, 4520, 4900, 4980, 5050, 5130, 5220, 5300, 5670, 5750,
         5830, 6070, 6150, 6230, 6380, 6460, 7200, 7280, 7360, 7510, 7590, 8150, 8230, 8300, 8520, 8600, 8820, 8900,
         9050, 9110, 9190, 9320, 9400, 9540]
f6511 = [85, 155, 220, 520, 600, 740, 820, 900, 1040, 1120, 1270, 1340, 1490, 1570, 1650, 1730, 1940, 2010, 2090, 2340,
         2490, 2570, 2650, 2730, 2870, 3040, 3120, 3270, 3350, 3500, 3650, 3730, 3860, 4020, 4160, 4240, 4460, 4540,
         4840, 4910, 5070, 5150, 5320, 5400, 5630, 5710, 5790, 6020, 6100, 6270, 6350, 7110, 7190, 7350, 7430, 7690,
         7770, 7940, 8020, 8170, 8250, 8410, 8490, 8880, 8960, 9280, 9360, 9520, 9600, 9760, 9840]
f6508 = [115, 180, 250, 330, 480, 560, 640, 900, 980, 1060, 3220, 3300, 3440, 3520, 3600, 3680, 3760, 3905, 4055, 4130,
         4300, 4370, 4520, 4600, 4680, 4760, 4920, 5000, 5080, 5160, 5240, 5320, 5400, 5550, 5630, 6000, 7150, 7220,
         8080, 8390, 8590, 8930, 9680, 9760]
f6506 = [30, 95, 340, 590, 665, 735, 810, 890, 965, 1040, 1115, 2210, 2295, 2385, 2475, 2830, 2910, 2985, 3060, 3140,
         3505, 3575, 3650, 3915, 3990, 4065, 4135, 4205, 4270, 4445, 4510, 4575, 4650, 4725, 5160, 5240, 5320, 6135,
         6205, 6280, 6360, 6445, 6530, 7060, 7140, 7220, 7980, 8045, 8120, 8200, 8275, 8350, 8430, 8505, 8580, 8660,
         8740, 8820, 8900, 8980, 9130, 9215]
f6504 = [40, 110, 575, 645, 720, 790, 1035, 1115, 1200, 1280, 1360, 1440, 1525, 1605, 1680, 1755, 1830, 2690, 2760,
         2825, 2895, 2965, 3030, 3095, 3165, 3235, 3305, 3375, 4530, 4610, 4685, 4760, 4830, 4900, 4975, 6075, 6150,
         6230, 6310, 6390, 6470, 6545, 6620, 7030, 7095, 7165, 7235, 7305, 7375, 7445, 7515, 7585, 7655, 7725, 7800,
         7875, 7945, 8020, 8100, 8180, 8260]
f6500 = [50, 225, 300, 375, 445, 1310, 1630, 1710, 1785, 1860, 2140, 2215, 2285, 2360, 2440, 2520, 2985, 3055, 3480,
         3560, 3765, 3850, 3930, 4410, 4470, 4755, 4825, 4905, 7745, 7815, 7885, 7955, 8025, 8095, 8165, 8630, 8715,
         8800, 9405, 9490, 9570, 9650]
f6517 = [30, 95, 170, 555, 625, 890, 960, 1035, 1105, 1170, 1235, 1505, 1575, 1650, 4515, 4575, 4645, 4720, 5705, 5785,
         6050, 6125, 6190, 6265, 7385, 7480, 7565, 7640, 7715, 7785, 7865, 8515, 8610, 8690, 8760, 9690, 9750]
f6520 = [80, 140, 205, 275, 1460, 1535, 1605, 1670, 1935, 2005, 2075, 2150, 2225, 2295, 2725, 2795, 2870, 2945, 3145,
         3215, 3285, 3360, 3440, 3520, 4135, 4205, 4275, 4350, 4430, 4510, 4595, 4680, 4755, 4825, 4900, 4975, 5050,
         5125, 5200, 5280, 5355, 5425, 5655, 5730, 5815, 5895, 5965, 6030, 7415, 7490, 7580, 7655, 8140, 8220, 8300,
         8380, 8460]
f6513 = [55, 135, 1250, 1330, 1410, 1485, 2050, 3500, 3595, 3680, 3760, 3850, 4535, 4605, 4680, 4760, 4835, 4910, 4990,
         5075, 5450, 5525, 5605, 5680, 5760, 7540, 7640, 7715, 7790, 9130, 9215, 9300, 9380, 9460, 9540]

tick_x = [0, 2000, 4000, 6000, 8000, 10000]
tick_y = [6460, 6480, 6500, 6520, 6540, 6560]
legend_label = "Samples\n$\\mu$ = 6512.34, $\\sigma$ = 13.39"

# every sNNNN / fNNNN list above is one ADC level
xs, ys = [], []
for name, vals in list(globals().items()):
    if re.fullmatch(r"[sf]\d{4}", name):
        xs += vals
        ys += [int(name[1:])] * len(vals)

fig, ax = plt.subplots(figsize=(10, 10))
ax.plot(xs, ys, "k.", label=legend_label)
ax.set_xticks(tick_x)
ax.set_yticks(tick_y)
ax.set_xlabel("Sample #")
ax.set_ylabel("ADC Counts")
ax.set_title("Run 652, channel036, Pedestal")
ax.legend(loc="upper right")
ax.grid()
fig.subplots_adjust(left=0.081, right=0.985, top=0.965, bottom=0.058)
fig.savefig("out.png", dpi=100)
